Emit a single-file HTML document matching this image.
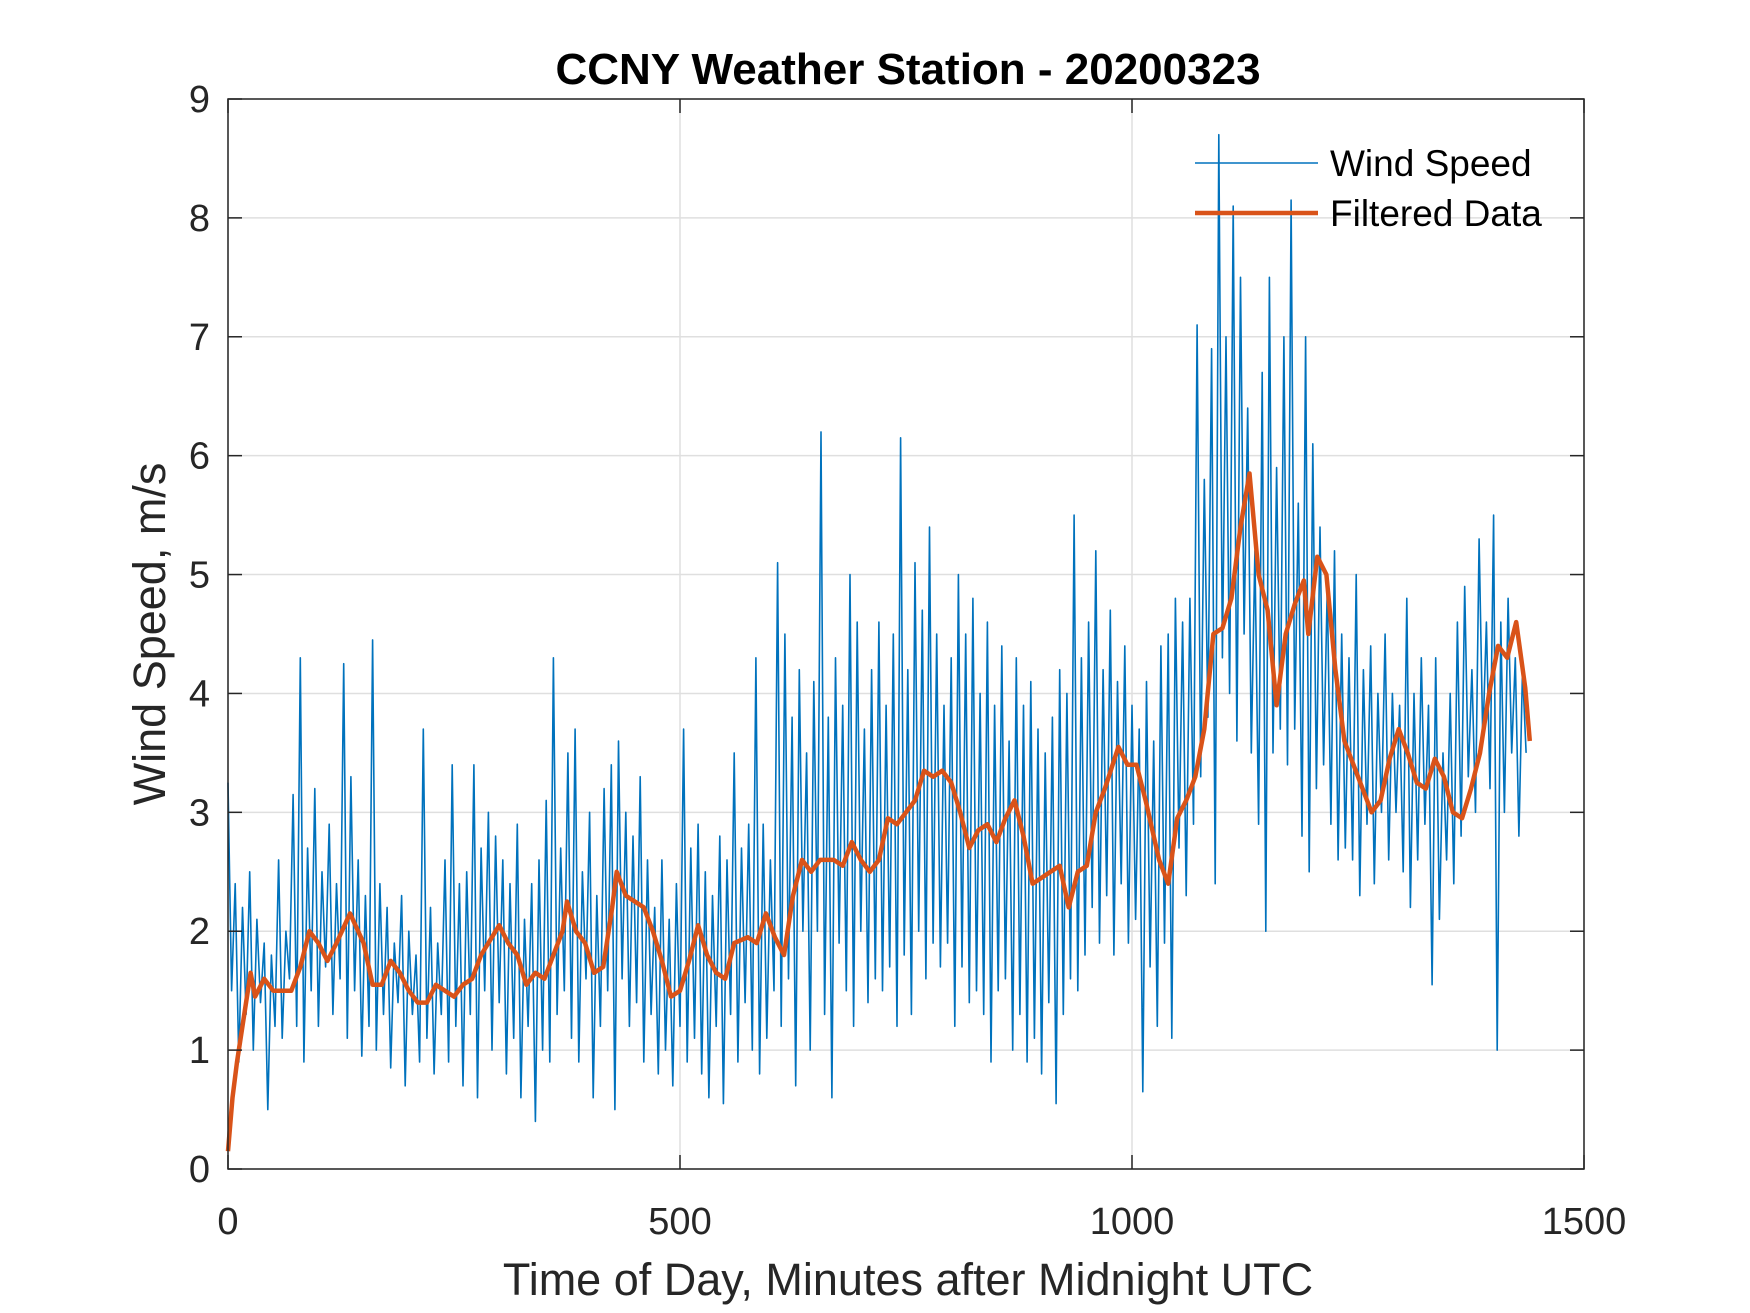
<!DOCTYPE html>
<html><head><meta charset="utf-8"><style>
html,body{margin:0;padding:0;background:#fff;}
svg{display:block;font-family:"Liberation Sans",Arial,sans-serif;}
</style></head><body>
<svg id="chart" width="1750" height="1313" viewBox="0 0 1750 1313">
<rect x="0" y="0" width="1750" height="1313" fill="#fff"/>
<g id="grid"></g>
<g id="series"></g>
<g id="axes"></g>
<text x="908" y="84" text-anchor="middle" font-size="44" font-weight="bold" fill="#000">CCNY Weather Station - 20200323</text>
<text x="908" y="1295" text-anchor="middle" font-size="45" fill="#262626">Time of Day, Minutes after Midnight UTC</text>
<text transform="translate(165,634) rotate(-90)" text-anchor="middle" font-size="45" fill="#262626">Wind Speed, m/s</text>
<g>
<g>
<line x1="1195" y1="163" x2="1318" y2="163" stroke="#0072BD" stroke-width="1.6"/>
<text x="1330" y="176" font-size="37" fill="#000">Wind Speed</text></g>
<g>
<line x1="1195" y1="213" x2="1318" y2="213" stroke="#D95319" stroke-width="4.5"/>
<text x="1330" y="226" font-size="37" fill="#000">Filtered Data</text></g>
</g>
</svg>
<script>
const xTicks=[0,500,1000,1500];
const yTicks=[0,1,2,3,4,5,6,7,8,9];
const windStep=4;
const windSpeed=[
3.25,1.5,2.4,0.9,2.2,1.3,2.5,1.0,2.1,1.4,1.9,0.5,1.8,1.2,2.6,1.1,2.0,1.6,3.15,1.2,
4.3,0.9,2.7,1.5,3.2,1.2,2.5,1.7,2.9,1.3,2.4,1.6,4.25,1.1,3.3,1.5,2.6,0.95,2.3,1.2,
4.45,1.0,2.4,1.3,2.2,0.85,1.9,1.4,2.3,0.7,2.0,1.3,1.8,0.9,3.7,1.1,2.2,0.8,1.9,1.3,
2.6,0.9,3.4,1.2,2.4,0.7,2.5,1.3,3.4,0.6,2.7,1.5,3.0,1.0,2.8,1.4,2.6,0.8,2.4,1.1,
2.9,0.6,2.1,1.2,2.4,0.4,2.6,1.0,3.1,0.9,4.3,1.3,2.7,1.5,3.5,1.1,3.7,0.9,2.5,1.6,
3.0,0.6,2.3,1.2,3.2,1.5,3.4,0.5,3.6,1.6,3.0,1.2,2.8,1.4,3.3,0.9,2.6,1.3,2.2,0.8,
2.6,1.0,2.1,0.7,2.4,1.2,3.7,0.9,2.7,1.1,2.9,0.8,2.5,0.6,2.3,1.2,2.8,0.55,2.6,1.3,
3.5,0.9,2.7,1.4,2.9,1.0,4.3,0.8,2.9,1.1,2.6,1.5,5.1,1.2,4.5,1.6,3.8,0.7,4.2,2.0,
3.5,1.0,4.1,2.0,6.2,1.3,3.8,0.6,4.3,1.9,3.9,1.5,5.0,1.2,4.6,2.0,3.7,1.4,4.2,1.6,
4.6,1.5,3.9,1.7,4.5,1.2,6.15,1.8,4.2,1.3,5.1,2.0,4.7,1.6,5.4,1.9,4.5,1.7,3.9,1.9,
4.3,1.2,5.0,1.7,4.5,1.4,4.8,1.5,4.0,1.3,4.6,0.9,3.9,1.5,4.4,1.6,3.6,1.0,4.3,1.3,
3.9,0.9,4.1,1.1,3.7,0.8,3.5,1.4,3.8,0.55,4.2,1.3,4.0,1.6,5.5,1.5,4.3,1.8,4.6,2.2,
5.2,1.9,4.2,2.3,4.7,1.8,4.1,2.4,4.4,1.9,3.9,2.1,3.7,0.65,4.1,1.7,3.6,1.2,4.4,1.9,
4.5,1.1,4.8,2.7,4.6,2.3,4.8,2.9,7.1,3.3,5.8,3.8,6.9,2.4,8.7,4.3,7.0,4.0,8.1,3.6,
7.5,4.5,6.4,3.5,5.2,2.9,6.7,2.0,7.5,3.5,5.9,3.7,7.0,3.4,8.15,3.7,5.6,2.8,7.0,2.5,
6.1,3.2,5.4,3.4,4.9,2.9,5.2,2.6,4.5,2.7,4.3,2.6,5.0,2.3,4.2,2.9,4.4,2.4,4.0,3.0,
4.5,2.6,4.0,3.0,3.9,2.5,4.8,2.2,4.0,2.6,4.3,2.9,3.9,1.55,4.3,2.1,3.5,2.6,4.0,2.4,
4.6,2.8,4.9,3.3,4.2,3.0,5.3,3.6,4.6,3.2,5.5,1.0,4.6,3.0,4.8,3.5,4.3,2.8,4.2,3.5
];
const filtT=[0,5,10,25,30,40,50,60,70,80,90,100,110,120,135,150,160,170,180,190,200,210,220,230,240,250,260,270,280,300,310,320,330,340,350,360,370,375,385,395,405,415,425,430,440,450,460,470,480,490,500,510,520,530,540,550,560,575,585,595,605,615,625,635,645,655,670,680,690,700,710,720,730,740,750,760,770,780,790,800,810,820,830,840,850,860,870,880,890,900,910,920,930,940,950,960,970,985,995,1005,1015,1030,1040,1050,1060,1070,1080,1090,1100,1110,1120,1130,1140,1150,1160,1170,1180,1190,1195,1205,1215,1225,1235,1245,1255,1265,1275,1285,1295,1305,1315,1325,1335,1345,1355,1365,1375,1385,1395,1405,1415,1425,1435,1440];
const filtV=[0.15,0.6,0.9,1.65,1.45,1.6,1.5,1.5,1.5,1.7,2.0,1.9,1.75,1.9,2.15,1.9,1.55,1.55,1.75,1.65,1.5,1.4,1.4,1.55,1.5,1.45,1.55,1.6,1.8,2.05,1.9,1.8,1.55,1.65,1.6,1.8,2.0,2.25,2.0,1.9,1.65,1.7,2.2,2.5,2.3,2.25,2.2,2.0,1.75,1.45,1.5,1.75,2.05,1.8,1.65,1.6,1.9,1.95,1.9,2.15,1.95,1.8,2.3,2.6,2.5,2.6,2.6,2.55,2.75,2.6,2.5,2.6,2.95,2.9,3.0,3.1,3.35,3.3,3.35,3.25,3.0,2.7,2.85,2.9,2.75,2.95,3.1,2.8,2.4,2.45,2.5,2.55,2.2,2.5,2.55,3.0,3.2,3.55,3.4,3.4,3.1,2.6,2.4,2.95,3.1,3.3,3.7,4.5,4.55,4.8,5.4,5.85,5.0,4.7,3.9,4.5,4.75,4.95,4.5,5.15,5.0,4.2,3.6,3.4,3.2,3.0,3.1,3.45,3.7,3.5,3.25,3.2,3.45,3.3,3.0,2.95,3.2,3.5,4.0,4.4,4.3,4.6,4.05,3.6];

const L=228,R=1584,T=99,B=1169;
const xs=v=>L+(v-0)/(1500-0)*(R-L);
const ys=v=>B-(v-0)/(9-0)*(B-T);
const NS="http://www.w3.org/2000/svg";
function mk(tag,attrs,parent){const e=document.createElementNS(NS,tag);for(const k in attrs)e.setAttribute(k,attrs[k]);parent.appendChild(e);return e;}
const grid=document.getElementById('grid'),series=document.getElementById('series'),axes=document.getElementById('axes');
xTicks.forEach(t=>{
  const g=mk('line',{x1:xs(t),x2:xs(t),y1:T,y2:B,stroke:'#dfdfdf','stroke-width':1.5},grid);
  
  
  const tx=mk('text',{x:xs(t),y:1234,'text-anchor':'middle','font-size':38,fill:'#262626'},axes);
  tx.textContent=t;
  
  
  mk('line',{x1:xs(t),x2:xs(t),y1:B,y2:B-14,stroke:'#262626','stroke-width':1.5},axes);
  mk('line',{x1:xs(t),x2:xs(t),y1:T,y2:T+14,stroke:'#262626','stroke-width':1.5},axes);
});
yTicks.forEach(t=>{
  const g=mk('line',{x1:L,x2:R,y1:ys(t),y2:ys(t),stroke:'#dfdfdf','stroke-width':1.5},grid);
  
  
  const tx=mk('text',{x:210,y:ys(t)+13,'text-anchor':'end','font-size':38,fill:'#262626'},axes);
  tx.textContent=t;
  
  
  mk('line',{x1:L,x2:L+14,y1:ys(t),y2:ys(t),stroke:'#262626','stroke-width':1.5},axes);
  mk('line',{x1:R,x2:R-14,y1:ys(t),y2:ys(t),stroke:'#262626','stroke-width':1.5},axes);
});
const wp=windSpeed.map((v,i)=>xs(i*windStep).toFixed(1)+','+ys(v).toFixed(1)).join(' ');
const w=mk('polyline',{points:wp,fill:'none',stroke:'#0072BD','stroke-width':1.6,'stroke-linejoin':'round'},series);


const fp=filtV.map((v,i)=>xs(filtT[i]).toFixed(1)+','+ys(v).toFixed(1)).join(' ');
const f=mk('polyline',{points:fp,fill:'none',stroke:'#D95319','stroke-width':4.5,'stroke-linejoin':'round'},series);


const box=mk('rect',{x:L,y:T,width:R-L,height:B-T,fill:'none',stroke:'#262626','stroke-width':1.5},axes);


</script>
</body></html>
